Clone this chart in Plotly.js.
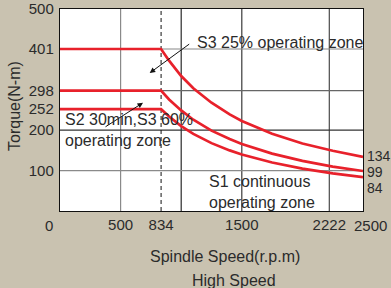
<!DOCTYPE html>
<html>
<head>
<meta charset="utf-8">
<script src="https://cdn.plot.ly/plotly-3.0.1.min.js"></script>
<style>html,body{margin:0;padding:0;background:#c9c2b0;}#chart{width:391px;height:288px;}</style>
</head>
<body>
<div id="chart"></div>
<script>
// ---- data ----
const speed = [0, 834, 900, 1000, 1100, 1250, 1400, 1500, 1750, 2000, 2250, 2500];
const torqueS3_25 = [401, 401, 372, 334, 304, 268, 239, 223, 191, 167, 149, 134];
const torqueS2_S3_60 = [298, 298, 276, 249, 226, 199, 178, 166, 142, 124, 110, 99];
const torqueS1 = [252, 252, 234, 210, 191, 168, 150, 140, 120, 105, 93, 84];
const baseSpeed = 834;
const xTickVals = [500, 834, 1500, 2222];
const yTickVals = [100, 200, 252, 298, 401, 500];
const xGridVals = [500, 1000, 1500, 2222];
const yGridVals = [100, 200, 298, 401];
const endLabels = ['134', '99', '84'];

// ---- styling ----
const FONT = 'Liberation Sans, Arial, sans-serif';
const TXT = '#2b2b2b';
const RED = '#e8212b';
const xGridColors = ['#8a8a8a', '#2a2a2a', '#3a3a3a', '#4a4a4a'];
const yGridColors = ['#8a8a8a', '#333333', '#666666', '#888888'];

const mk = (y) => ({x: speed, y: y, type: 'scatter', mode: 'lines',
  line: {color: RED, width: 2.7}, hoverinfo: 'skip', cliponaxis: false});
const data = [mk(torqueS3_25), mk(torqueS2_S3_60), mk(torqueS1)];

const shapes = [];
xGridVals.forEach((v, i) => shapes.push({type: 'line', xref: 'x', yref: 'paper', x0: v, x1: v, y0: 0, y1: 1,
  line: {color: xGridColors[i], width: 1.2}, layer: 'below'}));
yGridVals.forEach((v, i) => shapes.push({type: 'line', xref: 'paper', yref: 'y', x0: 0, x1: 1, y0: v, y1: v,
  line: {color: yGridColors[i], width: 1.2}, layer: 'below'}));
shapes.push({type: 'line', xref: 'x', yref: 'paper', x0: baseSpeed, x1: baseSpeed, y0: 0, y1: 1,
  line: {color: '#111', width: 1, dash: '4px,3px'}, layer: 'below'});

const endVals = [torqueS3_25, torqueS2_S3_60, torqueS1].map(a => a[a.length - 1]);
const endShift = [1, -1, -11];

const annotations = [
  {xref: 'paper', yref: 'paper', x: 0.447, y: 0.833, text: 'S3 25% operating zone', showarrow: false,
   xanchor: 'left', yanchor: 'middle', font: {size: 16, color: TXT, family: FONT}},
  {xref: 'paper', yref: 'paper', x: 0.296, y: 0.683, text: '', showarrow: true, arrowhead: 2, arrowsize: 1.1,
   arrowwidth: 1, arrowcolor: '#111', ax: 41, ay: -30},
  {xref: 'paper', yref: 'paper', x: 0.274, y: 0.536, text: '', showarrow: true, arrowhead: 2, arrowsize: 1.1,
   arrowwidth: 1, arrowcolor: '#111', ax: -39, ay: 25},
  {xref: 'paper', yref: 'paper', x: 0.01, y: 0.40, text: 'S2 30min,S3 60%<br>operating zone', showarrow: false,
   xanchor: 'left', yanchor: 'middle', align: 'left', font: {size: 16, color: TXT, family: FONT}},
  {xref: 'paper', yref: 'paper', x: 0.485, y: 0.095, text: 'S1 continuous<br>operating zone', showarrow: false,
   xanchor: 'left', yanchor: 'middle', align: 'left', font: {size: 16, color: TXT, family: FONT}},
  {xref: 'paper', yref: 'paper', x: 0, y: 0, text: '0', showarrow: false, xanchor: 'center', yanchor: 'middle',
   xshift: -11, yshift: -14, font: {size: 15, color: TXT, family: FONT}},
  {xref: 'paper', yref: 'paper', x: 1, y: 0, text: '2500', showarrow: false, xanchor: 'center', yanchor: 'middle',
   xshift: 7, yshift: -14, font: {size: 15, color: TXT, family: FONT}},
  {xref: 'paper', yref: 'paper', x: 0.545, y: 0, text: 'Spindle Speed(r.p.m)', showarrow: false,
   xanchor: 'center', yanchor: 'middle', yshift: -45, font: {size: 16, color: TXT, family: FONT}},
  {xref: 'paper', yref: 'paper', x: 0.575, y: 0, text: 'High Speed', showarrow: false,
   xanchor: 'center', yanchor: 'middle', yshift: -69, font: {size: 16, color: TXT, family: FONT}},
  {xref: 'paper', yref: 'paper', x: 0, y: 0.52, text: 'Torque(N-m)', showarrow: false, textangle: -90,
   xanchor: 'center', yanchor: 'middle', xshift: -45, font: {size: 16, color: TXT, family: FONT}}
];
endLabels.forEach((t, i) => annotations.push({xref: 'paper', yref: 'y', x: 1, y: endVals[i], text: t,
  showarrow: false, xanchor: 'left', yanchor: 'middle', xshift: 2, yshift: endShift[i],
  font: {size: 14, color: TXT, family: FONT}}));

const layout = {
  width: 391, height: 288,
  margin: {l: 60, r: 28, t: 9, b: 77},
  paper_bgcolor: '#c9c2b0', plot_bgcolor: '#ffffff',
  showlegend: false,
  font: {family: FONT, color: TXT, size: 15},
  xaxis: {range: [0, 2500], tickvals: xTickVals, ticktext: xTickVals.map(String), showgrid: false,
    zeroline: false, showline: true, mirror: true, linecolor: '#111', linewidth: 1.2, ticks: '',
    ticklabelstandoff: 0, tickfont: {size: 15, color: TXT, family: FONT}, fixedrange: true},
  yaxis: {range: [0, 500], tickvals: yTickVals, ticktext: yTickVals.map(String), showgrid: false,
    zeroline: false, showline: true, mirror: true, linecolor: '#111', linewidth: 1.2, ticks: '',
    ticklabelstandoff: 2, tickfont: {size: 15, color: TXT, family: FONT}, fixedrange: true},
  shapes: shapes,
  annotations: annotations
};
Plotly.newPlot('chart', data, layout, {displayModeBar: false, staticPlot: true});
</script>
</body>
</html>
